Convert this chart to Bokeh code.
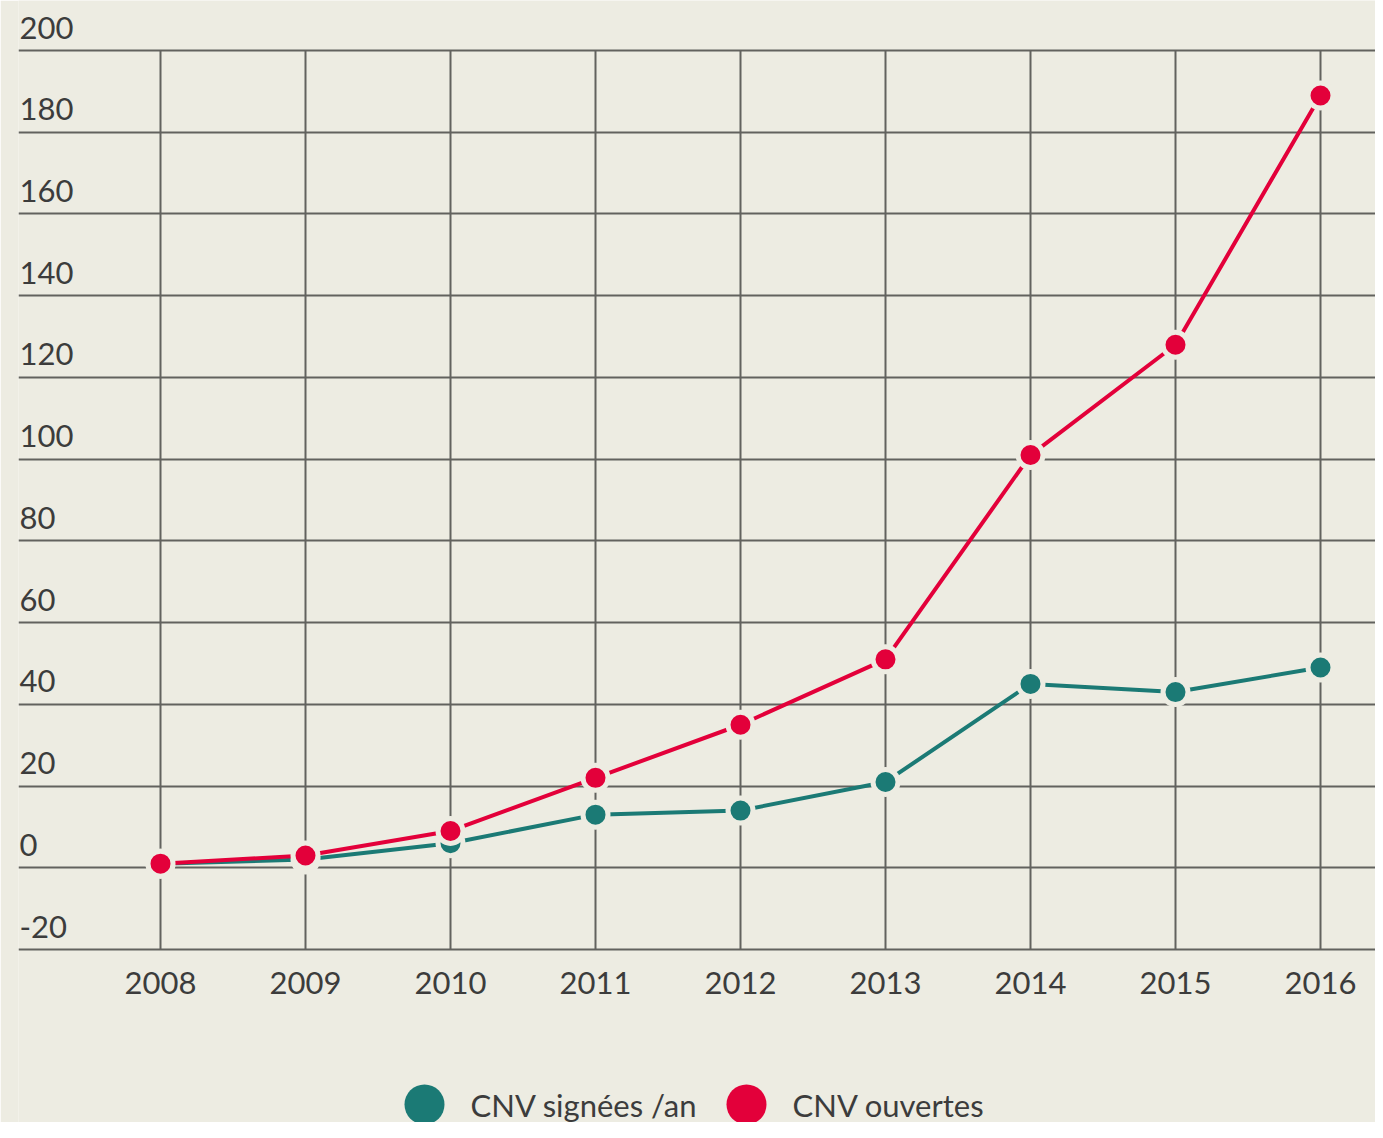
from bokeh.plotting import figure
from bokeh.models import Range1d, FixedTicker, ColumnDataSource
from bokeh.core.properties import value
from bokeh.embed import file_html
from bokeh.resources import INLINE

years = [2008, 2009, 2010, 2011, 2012, 2013, 2014, 2015, 2016]
signees = [1, 2, 6, 13, 14, 21, 45, 43, 49]
ouvertes = [1, 3, 9, 22, 35, 51, 101, 128, 189]
y_ticks = [-20, 0, 20, 40, 60, 80, 100, 120, 140, 160, 180, 200]
legend_labels = ["CNV signées /an", "CNV ouvertes"]

BG = "#EDECE2"
GRID = "#62625e"
TEAL = "#1B7A75"
RED = "#E3003A"
TXT = "#3c3c3c"
FONT = "Lato"
FS = "31px"

W = 1375
H = 1122
LEFT = 18
px_per_year = 145.0
x_start = years[0] - (160 - LEFT) / px_per_year
x_end = x_start + (W - LEFT) / px_per_year
px_per_unit = (949 - 50) / 220.0
y_end = 200 + 50 / px_per_unit
y_start = -20 - (H - 949) / px_per_unit


def sx(px):  # page pixel -> data x (for layout of legend only)
    return x_start + (px - LEFT) / px_per_year


def sy(py):  # page pixel -> data y (for layout of legend only)
    return y_end - py / px_per_unit


p = figure(width=W, height=H, output_backend="svg", toolbar_location=None,
           x_range=Range1d(x_start, x_end), y_range=Range1d(y_start, y_end),
           min_border_left=LEFT, min_border_right=0, min_border_top=0, min_border_bottom=0,
           background_fill_color=BG, border_fill_color=BG, outline_line_color=None)

p.axis.visible = False
p.xgrid.visible = False
p.ygrid.ticker = FixedTicker(ticks=y_ticks)
p.ygrid.grid_line_color = GRID
p.ygrid.grid_line_width = 2

# vertical grid lines
p.segment(x0=years, y0=[y_ticks[0]] * len(years), x1=years, y1=[y_ticks[-1]] * len(years),
          line_color=GRID, line_width=2)

# y labels above grid lines
p.text(x=[x_start] * len(y_ticks), y=y_ticks, text=[str(t) for t in y_ticks],
       text_font=value(FONT), text_font_size=FS, text_color=TXT,
       text_baseline="alphabetic", text_align="left", x_offset=1, y_offset=-23)

# x labels below the chart
p.text(x=years, y=[y_ticks[0]] * len(years), text=[str(y) for y in years],
       text_font=value(FONT), text_font_size=FS, text_color=TXT,
       text_baseline="middle", text_align="center", y_offset=33)

for vals, col in ((signees, TEAL), (ouvertes, RED)):
    src = ColumnDataSource(dict(x=years, y=vals))
    p.line("x", "y", source=src, line_color=col, line_width=4)
    p.scatter("x", "y", source=src, size=25, fill_color=col, line_color=BG, line_width=5)

# legend
ly = sy(1104)
p.scatter(x=[sx(424), sx(746)], y=[ly, ly], size=40, fill_color=[TEAL, RED], line_color=None)
p.text(x=[sx(470), sx(792)], y=[ly, ly], text=legend_labels, text_font=value(FONT),
       text_font_size=FS, text_color=TXT, text_baseline="middle", text_align="left")

open("out.html", "w").write(file_html(p, INLINE))
